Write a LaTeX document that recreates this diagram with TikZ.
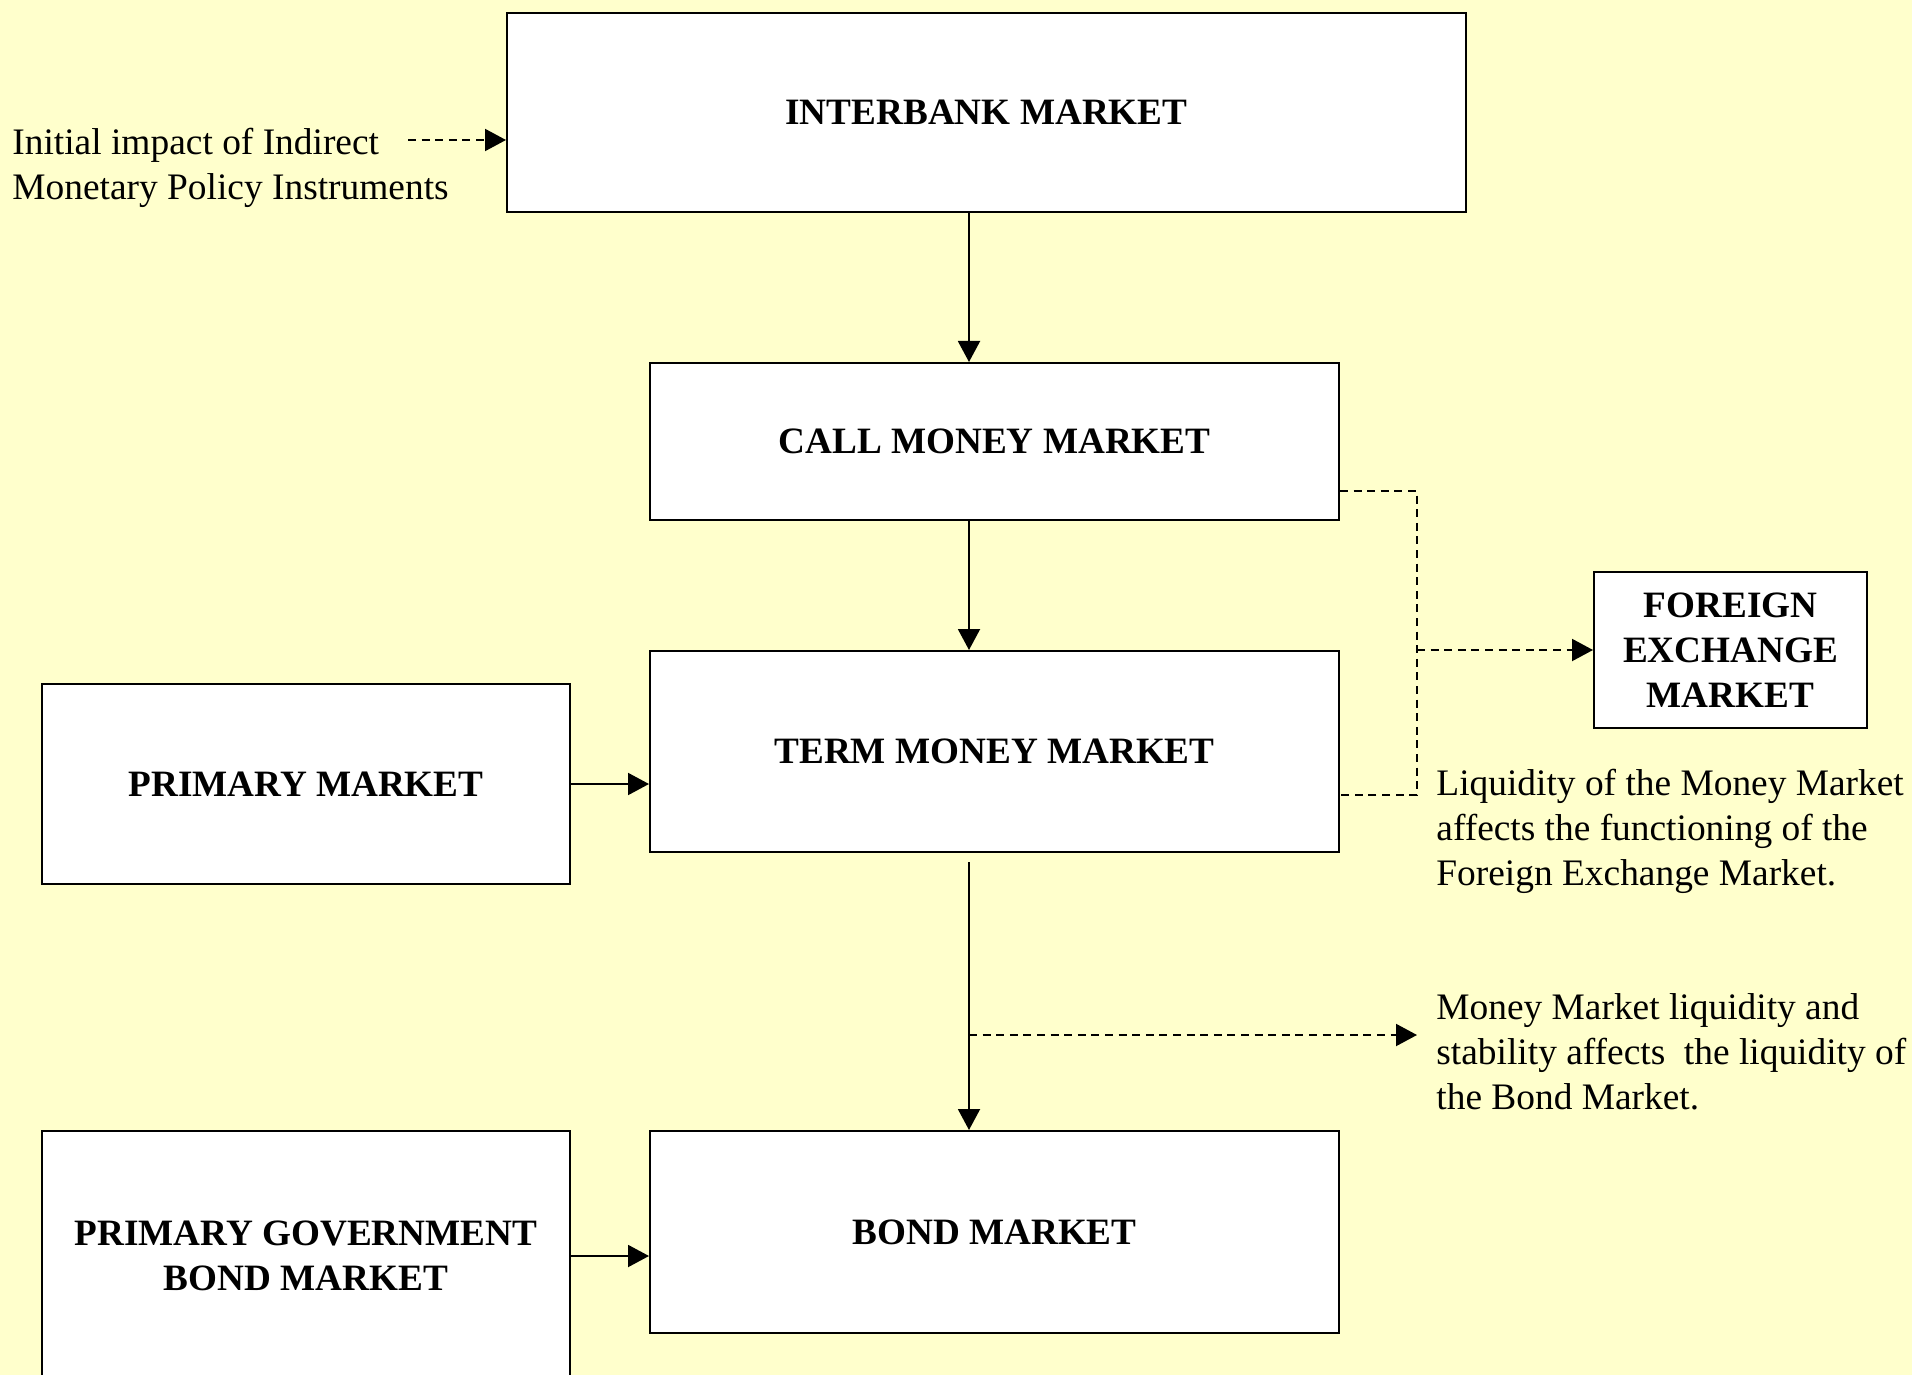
\documentclass[tikz,border=0pt]{standalone}
\usepackage{fontspec}
\setmainfont{Liberation Serif}
\usetikzlibrary{arrows.meta}
\definecolor{paper}{RGB}{255,255,204}

\begin{document}
\begin{tikzpicture}[x=0.5pt, y=-0.5pt,
    market/.style={draw, fill=white, line width=1pt, inner sep=0pt, anchor=north west, align=center,
      font=\fontsize{18.6}{22.5}\selectfont\bfseries},
    note/.style={anchor=west, align=left, inner sep=0pt, font=\fontsize{18.7}{22.5}\selectfont},
    link/.style={line width=1pt, -{Triangle[length=10.5pt,width=11pt]}},
    hint/.style={link, dash pattern=on 4pt off 2.8pt}]
    \fill[paper] (0,0) rectangle (1912,1375);
    \useasboundingbox (0,0) rectangle (1912,1375);
    % the markets
    \node[market, minimum width=479.5pt, minimum height=99.5pt] (inter) at (506,12) {INTERBANK MARKET};
    \node[market, minimum width=344.5pt, minimum height=78.5pt] (call) at (649,362) {CALL MONEY MARKET};
    \node[market, minimum width=344.5pt, minimum height=100.5pt] (term) at (649,650) {TERM MONEY MARKET};
    \node[market, minimum width=344.5pt, minimum height=101pt] (bond) at (649,1130) {BOND MARKET};
    \node[market, minimum width=264pt, minimum height=100pt] (prim) at (41,683) {PRIMARY MARKET};
    \node[market, minimum width=264pt, minimum height=125pt] (pgov) at (41,1130) {PRIMARY GOVERNMENT\\BOND MARKET};
    \node[market, minimum width=136.5pt, minimum height=78pt] (fx) at (1593,571) {FOREIGN\\EXCHANGE\\MARKET};
    % notes
    \node[note] (init) at (12,168) {Initial impact of Indirect\\Monetary Policy Instruments};
    \node[note] (fxnote) at (1436,831) {Liquidity of the Money Market\\affects the functioning of the\\Foreign Exchange Market.};
    \node[note] (bondnote) at (1436,1052) {Money Market liquidity and\\stability affects \ the liquidity of\\the Bond Market.};
    \coordinate (ax) at (969,0);
    \coordinate (bus) at (1417,0);
    \coordinate (initend) at (408,140);
    \coordinate (split) at (969,1035);
    % flow
    \draw[link] (inter.south -| ax) -- (call.north -| ax);
    \draw[link] (call.south -| ax) -- (term.north -| ax);
    \draw[link, shorten <=4.5pt] (term.south -| ax) -- (bond.north -| ax);
    \draw[link] (prim.east) -- (prim.east -| term.west);
    \draw[link] (pgov.east) -- (pgov.east -| bond.west);
    \draw[hint] (initend) -- (initend -| inter.west);
    \draw[hint] (split) -- (split -| bus);
    \draw[line width=1pt, dash pattern=on 4pt off 2.8pt] (call.east |- 0,491) -| (bus |- 0,795) -- (term.east |- 0,795);
    \draw[hint] (bus |- fx.west) -- (fx.west);
\end{tikzpicture}
\end{document}
